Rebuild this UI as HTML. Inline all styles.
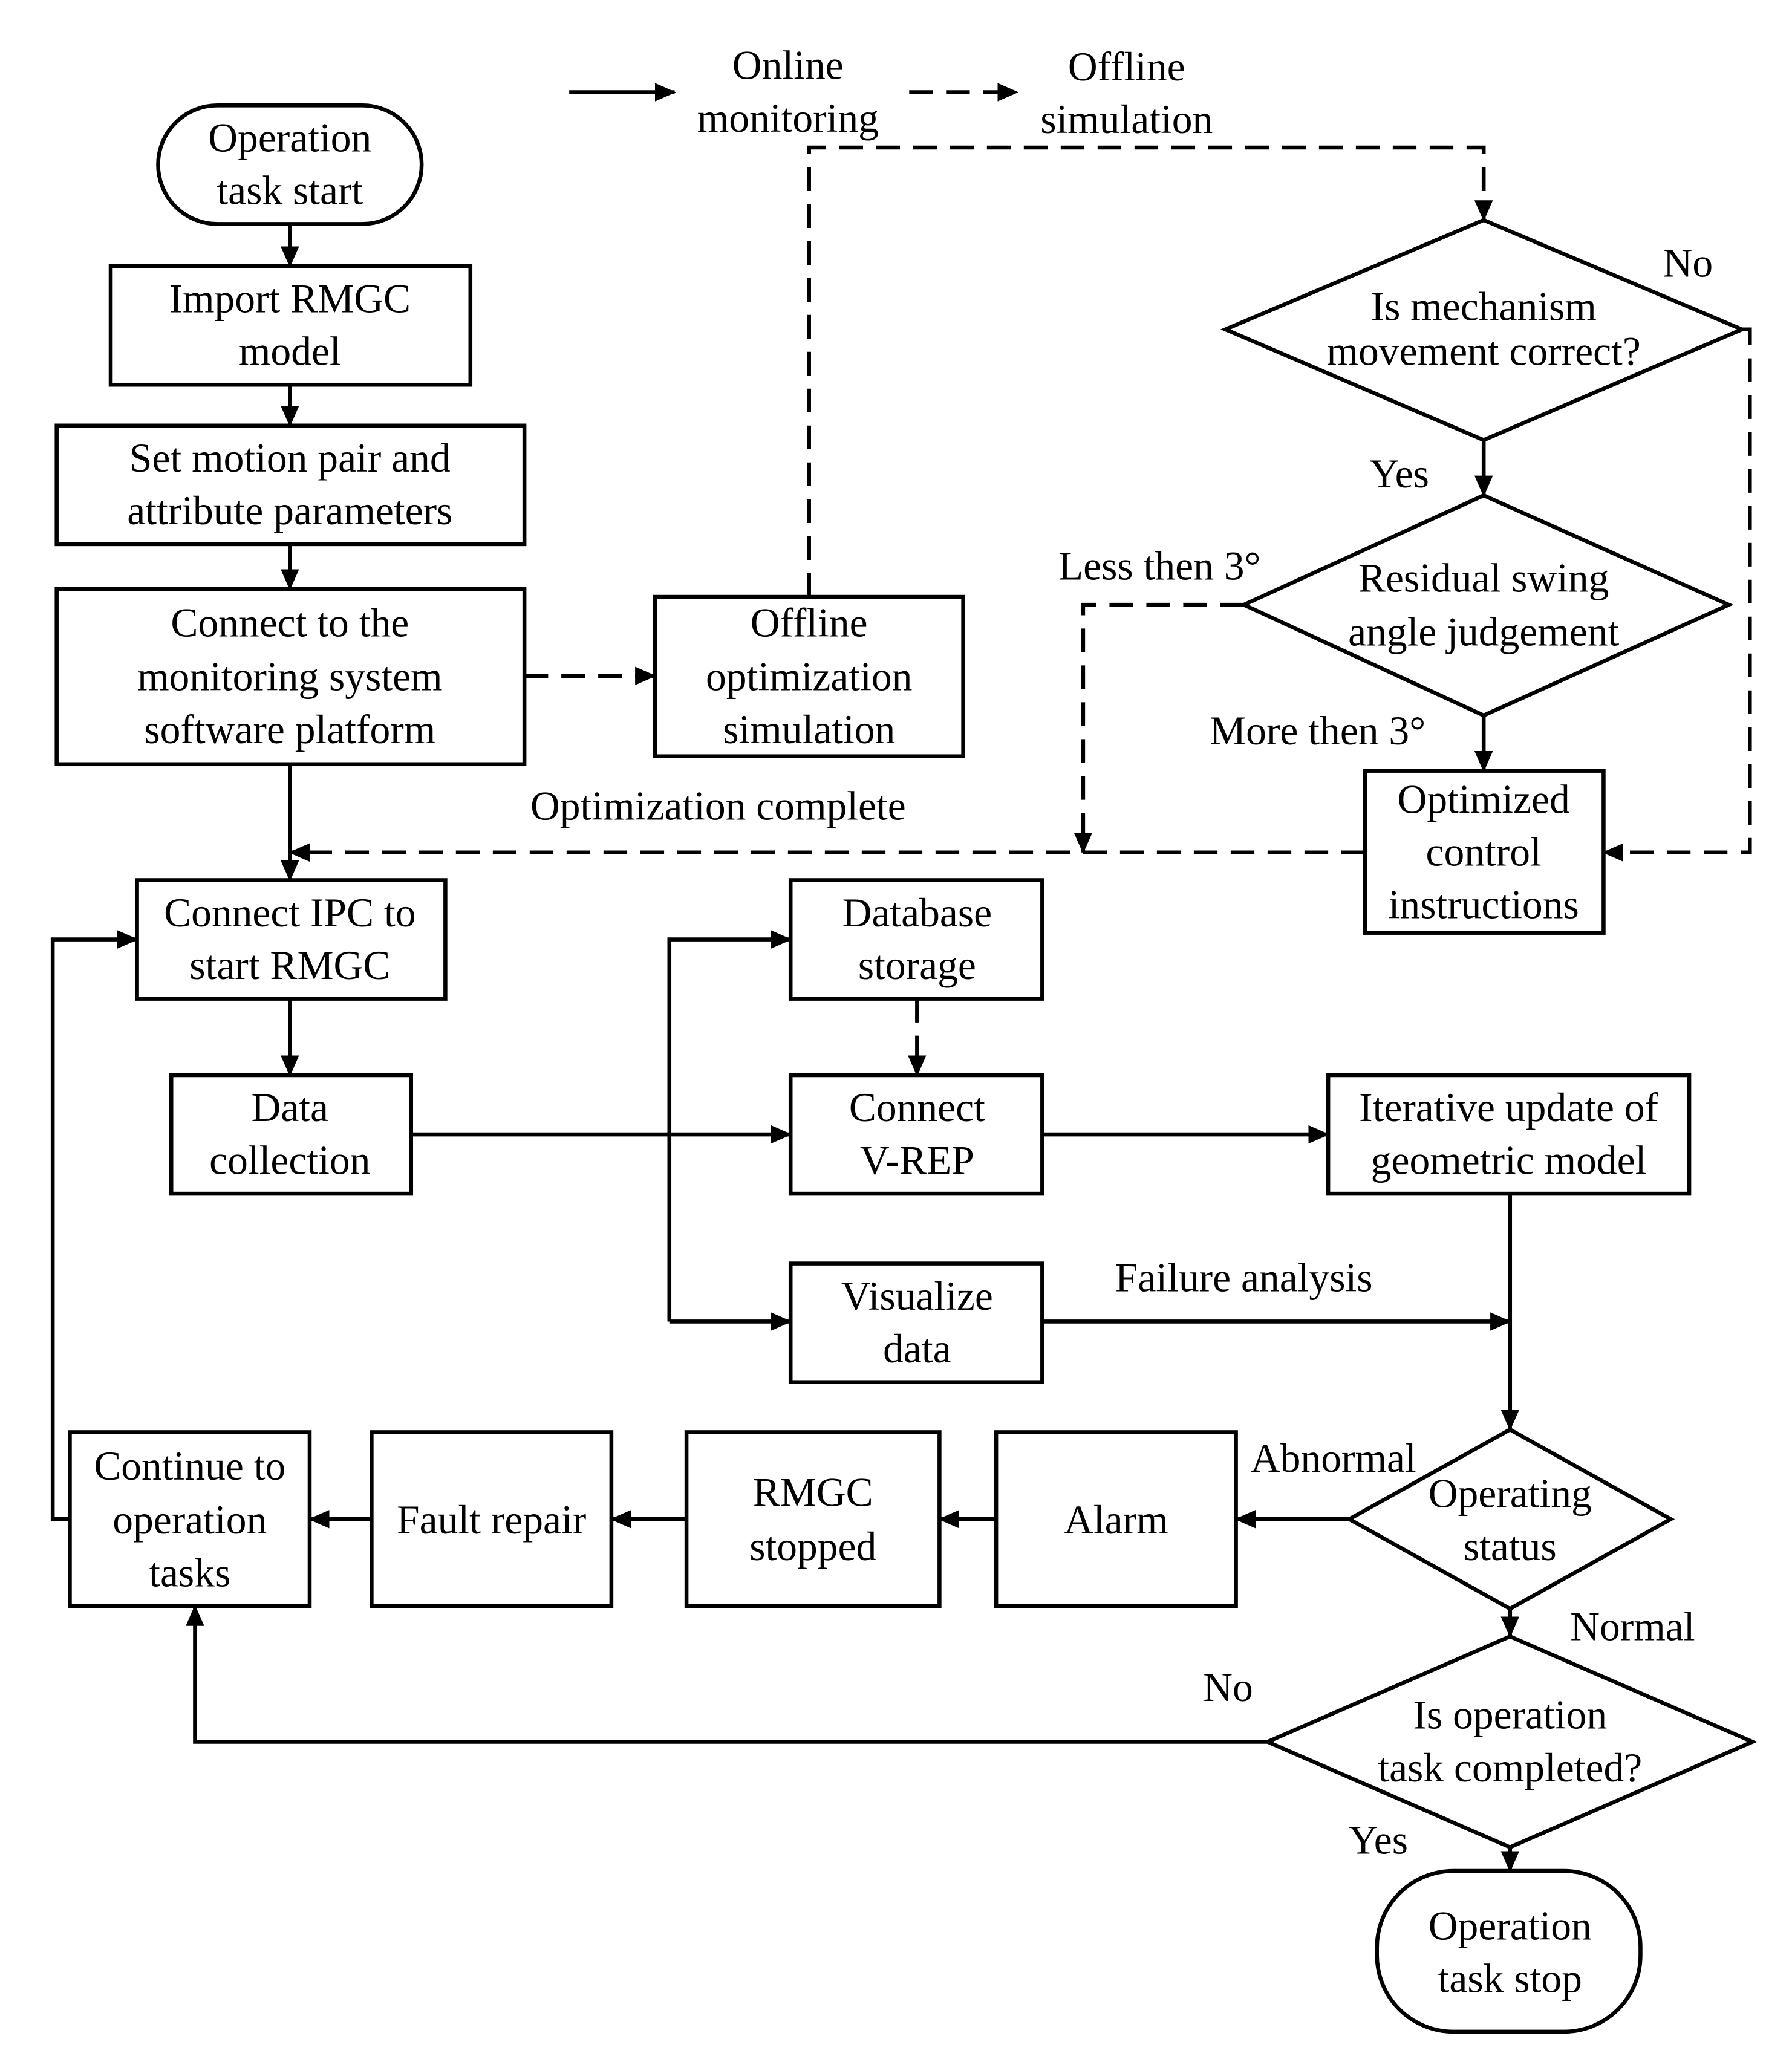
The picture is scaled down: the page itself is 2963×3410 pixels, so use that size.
<!DOCTYPE html>
<html><head><meta charset="utf-8"><style>html,body{margin:0;padding:0;background:#fff}svg{display:block}
.t text{font-family:"Liberation Serif","DejaVu Serif",serif;font-size:31px}</style></head>
<body>
<svg width="2963" height="3410" viewBox="0 0 1360 1565" preserveAspectRatio="none" xmlns="http://www.w3.org/2000/svg">
<defs>
<marker id="b" markerWidth="16" markerHeight="14" refX="15" refY="7" orient="auto" markerUnits="userSpaceOnUse"><path d="M0,0 L16,7 L0,14 Z" fill="#000"/></marker>
</defs>
<g fill="none" stroke="#000" stroke-width="3">
<rect x="120" y="80" width="200" height="90" rx="45"/>
<rect x="84" y="202" width="273" height="90"/>
<rect x="43" y="323" width="355" height="90"/>
<rect x="43" y="447" width="355" height="133"/>
<rect x="497" y="453" width="234" height="121"/>
<rect x="104" y="668" width="234" height="90"/>
<rect x="130" y="816" width="182" height="90"/>
<rect x="600" y="668" width="191" height="90"/>
<rect x="600" y="816" width="191" height="90"/>
<rect x="600" y="959" width="191" height="90"/>
<rect x="1008" y="816" width="274" height="90"/>
<rect x="53" y="1087" width="182" height="132"/>
<rect x="282" y="1087" width="182" height="132"/>
<rect x="521" y="1087" width="192" height="132"/>
<rect x="756" y="1087" width="182" height="132"/>
<rect x="1036" y="585" width="181" height="123"/>
<rect x="1045" y="1420" width="200" height="122" rx="58"/>
<polygon points="1126,167 1322,250 1126,334 930,250"/>
<polygon points="1126,376 1312,459 1126,543 944,459"/>
<polygon points="1146,1085 1268,1153 1146,1221 1024,1153"/>
<polygon points="1146,1242 1330,1322 1146,1402 962,1322"/>
</g>
<g fill="none" stroke="#000" stroke-width="3" marker-end="url(#b)">
<line x1="432" y1="70" x2="512" y2="70"/>
<line x1="220" y1="170" x2="220" y2="202"/>
<line x1="220" y1="292" x2="220" y2="323"/>
<line x1="220" y1="413" x2="220" y2="447"/>
<line x1="220" y1="580" x2="220" y2="668"/>
<line x1="1126" y1="334" x2="1126" y2="376"/>
<line x1="1126" y1="543" x2="1126" y2="585"/>
<line x1="220" y1="758" x2="220" y2="816"/>
<line x1="312" y1="861" x2="600" y2="861"/>
<polyline points="508,1003 508,713 600,713"/>
<line x1="508" y1="1003" x2="600" y2="1003"/>
<line x1="791" y1="861" x2="1008" y2="861"/>
<line x1="1146" y1="906" x2="1146" y2="1085"/>
<line x1="791" y1="1003" x2="1146" y2="1003"/>
<line x1="1024" y1="1153" x2="938" y2="1153"/>
<line x1="756" y1="1153" x2="713" y2="1153"/>
<line x1="521" y1="1153" x2="464" y2="1153"/>
<line x1="282" y1="1153" x2="235" y2="1153"/>
<polyline points="53,1153 40,1153 40,713 104,713"/>
<line x1="1146" y1="1221" x2="1146" y2="1242"/>
<polyline points="962,1322 148,1322 148,1219"/>
<line x1="1146" y1="1402" x2="1146" y2="1420"/>
</g>
<g fill="none" stroke="#000" stroke-width="3" stroke-dasharray="18,10" marker-end="url(#b)">
<line x1="690" y1="70" x2="772" y2="70"/>
<line x1="398" y1="513" x2="497" y2="513"/>
<polyline points="614,453 614,112 1126,112 1126,167"/>
<line x1="1036" y1="647" x2="220" y2="647"/>
<polyline points="1322,250 1328,250 1328,647 1217,647"/>
<polyline points="944,459 822,459 822,647"/>
<line x1="696" y1="758" x2="696" y2="816"/>
</g>
<g class="t" text-anchor="middle" fill="#000">
<text x="598" y="60">Online</text><text x="598" y="100">monitoring</text>
<text x="855" y="61">Offline</text><text x="855" y="101">simulation</text>
<text x="220" y="115">Operation</text><text x="220" y="155">task start</text>
<text x="220" y="237">Import RMGC</text><text x="220" y="277">model</text>
<text x="220" y="358">Set motion pair and</text><text x="220" y="398">attribute parameters</text>
<text x="220" y="483">Connect to the</text><text x="220" y="524">monitoring system</text><text x="220" y="564">software platform</text>
<text x="614" y="483">Offline</text><text x="614" y="524">optimization</text><text x="614" y="564">simulation</text>
<text x="1126" y="243">Is mechanism</text><text x="1126" y="277">movement correct?</text>
<text x="1281" y="210">No</text>
<text x="1062" y="370">Yes</text>
<text x="1126" y="449">Residual swing</text><text x="1126" y="490">angle judgement</text>
<text x="880" y="440">Less then 3°</text>
<text x="1000" y="565">More then 3°</text>
<text x="1126" y="617">Optimized</text><text x="1126" y="657">control</text><text x="1126" y="697">instructions</text>
<text x="545" y="622">Optimization complete</text>
<text x="220" y="703">Connect IPC to</text><text x="220" y="743">start RMGC</text>
<text x="696" y="703">Database</text><text x="696" y="743">storage</text>
<text x="220" y="851">Data</text><text x="220" y="891">collection</text>
<text x="696" y="851">Connect</text><text x="696" y="891">V-REP</text>
<text x="1145" y="851">Iterative update of</text><text x="1145" y="891">geometric model</text>
<text x="696" y="994">Visualize</text><text x="696" y="1034">data</text>
<text x="944" y="980">Failure analysis</text>
<text x="1012" y="1117">Abnormal</text>
<text x="1146" y="1144">Operating</text><text x="1146" y="1184">status</text>
<text x="847" y="1164">Alarm</text>
<text x="617" y="1143">RMGC</text><text x="617" y="1184">stopped</text>
<text x="373" y="1164">Fault repair</text>
<text x="144" y="1123">Continue to</text><text x="144" y="1164">operation</text><text x="144" y="1204">tasks</text>
<text x="1239" y="1245">Normal</text>
<text x="932" y="1291">No</text>
<text x="1146" y="1312">Is operation</text><text x="1146" y="1352">task completed?</text>
<text x="1046" y="1407">Yes</text>
<text x="1146" y="1472">Operation</text><text x="1146" y="1512">task stop</text>
</g>
</svg>
</body></html>
